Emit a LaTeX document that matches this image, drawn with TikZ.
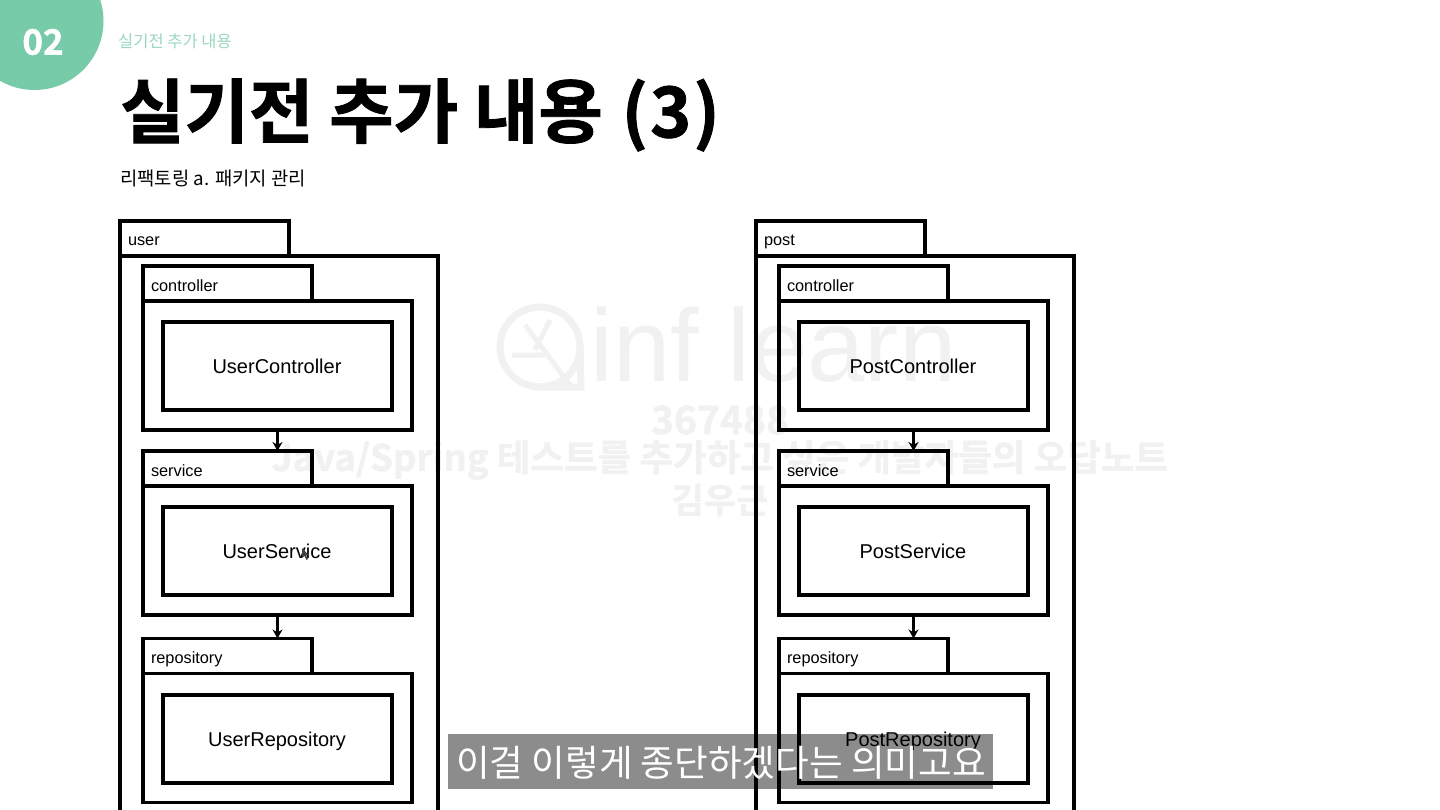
\documentclass[tikz,border=0pt]{standalone}
\usepackage{fontspec}
\setmainfont{Liberation Sans}
\newfontfamily\kr{Noto Sans CJK KR}[BoldFont={* Bold},BoldFeatures={FakeBold=1.2}]
\usetikzlibrary{arrows.meta,calc}
\definecolor{mint}{HTML}{78CBA8}
\definecolor{mintlight}{HTML}{9AD8BE}
\definecolor{wm}{HTML}{F1F1F1}
\tikzset{
 pkgtab/.style={draw=black,line width=3.6pt,anchor=north west,minimum width=169pt,minimum height=35pt,inner xsep=8pt,inner ysep=0pt,outer sep=0pt,text width=153pt,align=left,text height=15pt,text depth=0pt,font=\fontsize{16.3}{18}\selectfont},
 pkgbox/.style={draw=black,line width=3.6pt,anchor=north west,minimum width=269pt,minimum height=129pt,inner sep=0pt,outer sep=0pt},
 clsbox/.style={draw=black,line width=4pt,anchor=north west,minimum width=229pt,minimum height=88pt,inner sep=0pt,outer sep=0pt,text height=15.5pt,text depth=0pt,font=\fontsize{20}{24}\selectfont},
 flow/.style={draw=black,line width=2.4pt,-{Stealth[length=9pt,width=10pt]}},
 wmark/.style={text=wm,font=\kr\bfseries,inner sep=0pt}
}
% name, x of package, y of tab top, label, class
\newcommand{\pkgunit}[5]{%
 \node[pkgtab] (#1tab) at (#2,#3) {#4};
 \node[pkgbox] (#1box) at (#2,#3+35) {};
 \node[clsbox] (#1cls) at (#2+19.5,#3+56) {#5};
}
\begin{document}
\begin{tikzpicture}[x=1pt,y=-1pt]
\useasboundingbox (0,0) rectangle (1440,810);
\clip (0,0) rectangle (1440,810);
\fill[white] (0,0) rectangle (1440,810);
% watermark, under the drawing
\draw[wm,line width=7pt] (540,347) circle (40);
\draw[wm,line width=7pt] (540,387) -- (581,387) -- (580,347);
\draw[wm,line width=5pt] (525,325) -- (570,385) (550,320) -- (535,350) (512,355) -- (545,355);
\node[text=wm,font=\fontsize{103}{110}\selectfont,anchor=west,inner sep=0pt] (wmlogo) at (590,345) {inf learn};
\node[wmark,font=\kr\bfseries\fontsize{39}{42}\selectfont] (wmnum) at (720,420) {367488};
\node[wmark,font=\kr\bfseries\fontsize{36.5}{40}\selectfont] (wmcourse) at (720,460) {Java/Spring 테스트를 추가하고 싶은 개발자들의 오답노트};
\node[wmark,font=\kr\bfseries\fontsize{35}{38}\selectfont] (wmname) at (720,500) {김우근};
% header
\fill[mint] (34.5,21) circle (69);
\node[font=\kr\bfseries\fontsize{35}{40}\selectfont,text=white,inner sep=0pt] (secnum) at (43,42) {02};
\node[font=\kr\fontsize{16.5}{18}\selectfont,text=mintlight,anchor=west,inner sep=0pt] (crumb) at (118,41) {실기전 추가 내용};
\node[font=\kr\bfseries\fontsize{70}{74}\selectfont,anchor=west,inner sep=0pt] (title) at (120,115) {실기전 추가 내용 \hspace{3pt}(\hspace{2pt}3\hspace{2pt})};
\node[font=\kr\fontsize{18.8}{22}\selectfont,anchor=west,inner sep=0pt] (subt) at (120,178) {리팩토링 a. 패키지 관리};
% user package
\node[pkgtab] (usertab) at (120,221) {user};
\node[pkgbox,minimum width=318pt,minimum height=600pt] (userbox) at (120,256) {};
\pkgunit{uc}{143}{266}{controller}{UserController}
\pkgunit{us}{143}{451}{service}{UserService}
\pkgunit{ur}{143}{638.5}{repository}{UserRepository}
\draw[flow] (ucbox.south) -- (ucbox.south |- ustab.north);
\draw[flow] (usbox.south) -- (usbox.south |- urtab.north);
% post package
\node[pkgtab] (posttab) at (756,221) {post};
\node[pkgbox,minimum width=318pt,minimum height=600pt] (postbox) at (756,256) {};
\pkgunit{pc}{779}{266}{controller}{PostController}
\pkgunit{ps}{779}{451}{service}{PostService}
\pkgunit{pr}{779}{638.5}{repository}{PostRepository}
\draw[flow] (pcbox.south) -- (pcbox.south |- pstab.north);
\draw[flow] (psbox.south) -- (psbox.south |- prtab.north);
% cursor
\fill[black!75] (302,548) -- (302,558) -- (304.5,556) -- (306.5,560) -- (308,559) -- (306,555.5) -- (308.5,555) -- cycle;
% caption
\fill[black,opacity=.45] (448,734) rectangle (993,789);
\node[text=white,font=\kr\fontsize{36.6}{40}\selectfont,anchor=west,inner sep=0pt] (caption) at (456,762.5) {이걸 이렇게 종단하겠다는 의미고요};
\end{tikzpicture}
\end{document}
